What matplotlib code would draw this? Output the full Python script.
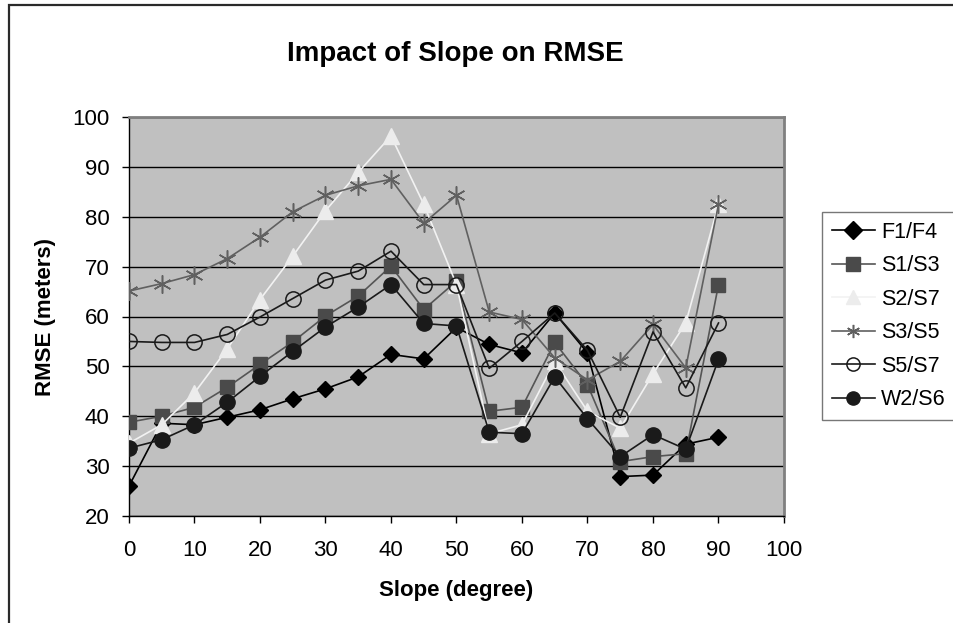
import numpy as np
import matplotlib
matplotlib.use("Agg")
import matplotlib.pyplot as plt
from matplotlib.patches import Rectangle

plt.rcParams['font.family'] = ['Liberation Sans', 'DejaVu Sans']

slope = [0, 5, 10, 15, 20, 25, 30, 35, 40, 45, 50, 55, 60, 65, 70, 75, 80, 85, 90]

f1_f4 = [26.0, 38.6, 38.3, 39.8, 41.3, 43.5, 45.5, 47.9, 52.4, 51.5, 57.8, 54.4, 52.7, 60.7, 52.7, 27.9, 28.2, 34.4, 35.8]
s1_s3 = [38.8, 40.0, 41.8, 45.8, 50.4, 54.9, 60.1, 64.1, 70.1, 61.4, 67.1, 41.0, 41.8, 54.8, 46.3, 30.9, 31.9, 32.5, 66.4]
s2_s7 = [34.6, 38.3, 44.7, 53.5, 63.4, 72.1, 81.2, 88.9, 96.2, 82.5, 66.4, 36.5, 38.3, 51.0, 41.0, 37.6, 48.5, 58.7, 82.5]
s3_s5 = [65.1, 66.6, 68.4, 71.6, 75.9, 81.0, 84.3, 86.2, 87.5, 78.7, 84.3, 60.9, 59.4, 51.7, 47.3, 51.0, 58.4, 49.7, 82.5]
s5_s7 = [55.0, 54.8, 54.8, 56.4, 59.9, 63.6, 67.3, 69.1, 73.1, 66.4, 66.4, 49.6, 55.0, 60.7, 53.2, 39.8, 56.9, 45.7, 58.7]
w2_s6 = [33.6, 35.3, 38.3, 42.8, 48.0, 53.0, 57.9, 61.9, 66.4, 58.6, 58.1, 36.8, 36.5, 47.9, 39.5, 31.9, 36.3, 33.4, 51.4]

labels = ["F1/F4", "S1/S3", "S2/S7", "S3/S5", "S5/S7", "W2/S6"]
series = [f1_f4, s1_s3, s2_s7, s3_s5, s5_s7, w2_s6]

W, H = 954, 623
fig = plt.figure(figsize=(W / 100, H / 100), dpi=100)
fig.patch.set_facecolor("white")

# outer chart border (cut off at right and bottom)
fig.patches.append(Rectangle((9 / W, -0.05), 1.0, 1 - 5 / H + 0.05,
                             transform=fig.transFigure, fill=False,
                             edgecolor="#2a2a2a", linewidth=1.6))

ax = fig.add_axes([129 / W, (H - 516) / H, 655 / W, 399 / H])
ax.set_facecolor("#c0c0c0")

styles = [
    dict(color="black", marker="D", markersize=8.5, markerfacecolor="black", markeredgecolor="black"),
    dict(color="#555555", marker="s", markersize=10, markerfacecolor="#4a4a4a", markeredgecolor="#4a4a4a"),
    dict(color="#f2f2f2", marker="^", markersize=11, markerfacecolor="#ececec", markeredgecolor="#ececec"),
    dict(color="#606060", marker=(6, 2, 0), markersize=13, markerfacecolor="none", markeredgecolor="#606060", markeredgewidth=1.1),
    dict(color="#1a1a1a", marker="o", markersize=11, markerfacecolor="none", markeredgecolor="#1a1a1a", markeredgewidth=1.1),
    dict(color="#1a1a1a", marker="o", markersize=11, markerfacecolor="#1a1a1a", markeredgecolor="#1a1a1a"),
]

for lab, vals, st in zip(labels, series, styles):
    ax.plot(slope, vals, label=lab, linewidth=1.2, zorder=3, **st)

ax.set_xlim(0, 100)
ax.set_ylim(20, 100)
ax.set_xticks(np.arange(0, 101, 10))
ax.set_yticks(np.arange(20, 101, 10))
ax.tick_params(axis="both", labelsize=16, length=5, width=1, direction="out")
ax.tick_params(axis="x", pad=12)
ax.tick_params(axis="y", pad=9)
ax.grid(axis="y", color="black", linewidth=1)
ax.set_axisbelow(True)

for s in ["top", "right"]:
    ax.spines[s].set_color("#808080")
    ax.spines[s].set_linewidth(2)
for s in ["left", "bottom"]:
    ax.spines[s].set_color("black")
    ax.spines[s].set_linewidth(1)

ax.set_xlabel("Slope (degree)", fontsize=16, fontweight="bold", labelpad=14)
ax.set_ylabel("RMSE (meters)", fontsize=16, fontweight="bold", labelpad=12)
fig.text(455 / W, 1 - 54 / H, "Impact of Slope on RMSE", fontsize=20,
         fontweight="bold", ha="center", va="center")

leg = fig.legend(loc="upper left", bbox_to_anchor=(822 / W, 1 - 212 / H),
                 fontsize=15.5, frameon=True, fancybox=False, handlelength=2.0,
                 handletextpad=0.3, labelspacing=0.58, borderpad=0.45,
                 borderaxespad=0)
leg.get_frame().set_edgecolor("#555555")
leg.get_frame().set_linewidth(1)
for h in leg.legend_handles:
    h.set_markersize(9.5)

fig.savefig("out.png", dpi=100, facecolor="white")
